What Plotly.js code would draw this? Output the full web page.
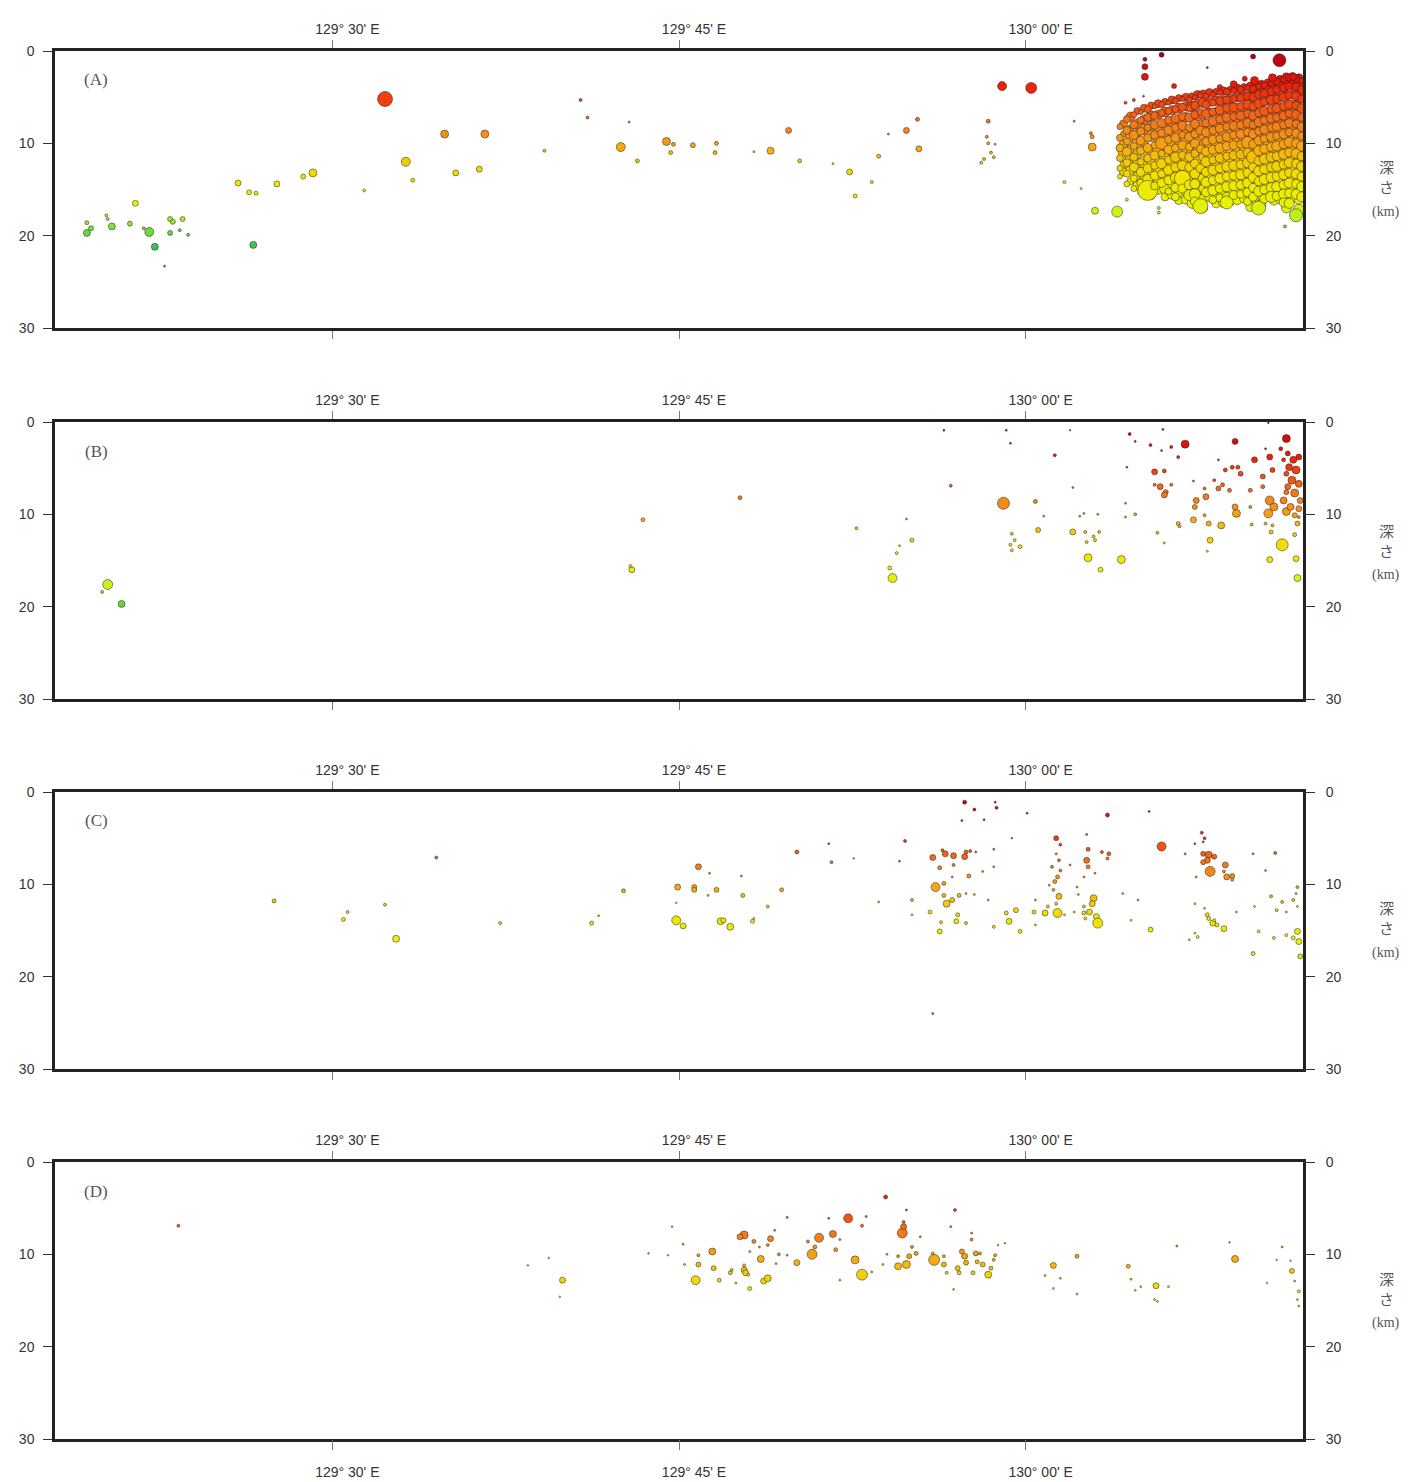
<!DOCTYPE html>
<html>
<head>
<meta charset="utf-8">
<script src="https://cdn.plot.ly/plotly-3.0.1.min.js"></script>
<style>html,body{margin:0;padding:0;background:#fff}#chart{width:1408px;height:1482px}</style>
</head>
<body>
<div id="chart"></div>
<script>
// ---------------- DATA (longitude in degrees E, depth in km, magnitude) ----------------
const xTickVals = [129.5, 129.75, 130.0];
const xTickText = ["129\u00b0 30' E", "129\u00b0 45' E", "130\u00b0 00' E"];
const depthTicks = [0, 10, 20, 30];
const panelLabels = ["(A)", "(B)", "(C)", "(D)"];

// Panel A: scattered events
const lonA = [129.538,129.581,129.553,129.558,129.589,129.523,129.486,129.479,129.460,129.432,129.440,129.445,129.443,129.358,129.323,129.323,129.326,129.337,129.338,129.341,129.354,129.364,129.368,129.372,129.383,129.385,129.383,129.392,129.390,129.396,129.379,
 129.610,129.606,129.679,129.684,129.714,129.653,129.708,129.720,129.741,129.746,129.744,129.760,129.777,129.776,129.804,129.816,129.829,129.837,129.861,129.873,129.877,129.889,129.894,129.901,129.914,129.922,129.923,
 129.983,130.004,129.973,129.972,129.973,129.978,129.975,129.977,129.970,129.968,130.035,130.048,130.048,130.047,130.028,130.040,130.050,130.066,130.073,130.096,130.096,130.187,130.195,130.183,130.164,130.098,130.086,130.086,130.086,130.107,130.131,130.193,
 130.140,130.150,130.158,130.165,130.178,130.072,130.078,130.085];
const depA = [5.2,9.0,12.0,14.0,13.2,15.1,13.2,13.6,14.4,14.3,15.3,15.4,21.0,16.5,18.6,19.7,19.2,17.8,18.2,19.0,18.7,19.2,19.6,21.2,18.2,18.5,19.7,18.2,19.4,19.9,23.3,
 9.0,12.8,5.3,7.2,7.7,10.8,10.4,11.9,9.8,10.1,11.0,10.2,10.0,11.0,10.9,10.8,8.6,11.9,12.2,13.1,15.7,14.2,11.4,9.0,8.6,7.4,10.6,
 3.8,4.0,7.6,9.3,10.0,10.1,11.0,11.5,11.7,12.1,7.6,10.4,9.3,8.9,14.2,14.9,17.3,17.4,16.1,17.0,17.5,19.0,17.8,1.0,0.6,0.4,0.9,1.7,2.8,3.8,1.8,2.8,
 3.9,3.6,3.0,3.2,2.9,5.6,5.3,4.9];
const magA = [3.5,2.1,2.3,1.3,1.7,1.1,2.1,1.5,1.7,1.7,1.5,1.3,1.9,1.7,1.3,1.9,1.5,1.1,1.1,1.9,1.5,1.1,2.3,1.9,1.5,1.5,1.5,1.5,1.1,1.1,0.9,
 2.1,1.7,1.1,1.1,0.9,1.1,2.3,1.3,2.1,1.3,1.3,1.5,1.3,1.3,0.9,1.9,1.7,1.3,0.9,1.7,1.3,1.1,1.3,0.9,1.7,1.3,1.7,
 2.3,2.7,1.3,1.1,1.1,0.9,1.1,1.1,1.1,1.1,0.9,2.1,1.3,1.1,1.1,0.9,1.9,2.7,1.1,1.1,1.1,1.1,3.1,3.1,1.5,1.5,1.3,1.7,1.9,1.5,0.9,1.9,
 1.5,1.9,1.5,2.1,2.1,1.1,1.1,0.9];

// Panel A: dense swarm near the east end, listed by longitude strip (first set)
const swarmLonA = [130.068,130.073,130.078,130.083,130.088,130.093,130.098,130.103,130.108,130.113,130.118,130.122,130.126,130.130,130.135,130.140,130.145,130.150,130.155,130.160,130.164,130.168,130.172,130.177,130.181,130.186,130.190,130.195,130.199];
const swarmDepA = [
 [8.2,9.4,10.5,11.6,12.7,13.6],
 [7.4,8.6,9.8,10.9,12.1,13.3,14.4],
 [6.9,8.0,9.1,10.3,11.5,12.6,13.8,14.9],
 [6.6,7.5,8.7,9.7,10.8,12.0,13.1,14.3,15.3],
 [6.3,7.2,8.3,9.4,10.5,11.6,12.7,13.9,15.1],
 [6.0,7.0,8.0,9.1,10.2,11.3,12.4,13.5,14.6],
 [5.8,6.7,7.8,8.9,10.0,11.1,12.2,13.3,14.3],
 [5.6,6.5,7.5,8.6,9.6,10.7,11.8,12.9,14.0,15.2],
 [5.4,6.3,7.3,8.3,9.4,10.5,11.5,12.6,13.7,14.8,15.8],
 [5.2,6.1,7.1,8.1,9.1,10.2,11.3,12.4,13.8,14.9],
 [5.3,6.2,7.2,8.3,9.3,10.4,11.5,12.6,14.5,15.6],
 [5.0,5.9,6.9,7.9,9.0,10.0,11.1,12.2,13.3,14.4,15.5,16.3],
 [4.8,6.6,8.6,10.6,12.7,16.8],
 [4.9,5.8,6.8,7.8,8.8,9.8,10.9,12.0,13.1,14.2,15.3],
 [4.7,5.6,6.6,7.6,8.6,9.6,10.7,11.8,12.9,14.0,15.1,16.1],
 [4.5,5.4,6.4,7.4,8.4,9.5,10.5,11.6,12.7,13.8,14.9,15.9],
 [4.4,5.3,6.2,7.2,8.2,9.3,10.3,11.4,12.5,13.6,14.7,15.8,16.4],
 [4.3,5.2,6.1,7.1,8.1,9.1,10.2,11.3,12.4,13.5,14.6,15.6],
 [4.2,5.1,6.0,7.0,8.0,9.0,10.1,11.2,12.3,13.4,14.5,15.5],
 [4.0,4.9,5.8,6.8,7.8,8.8,9.9,11.0,12.1,13.2,14.3,15.3,16.3],
 [4.1,5.0,6.0,7.0,8.0,9.0,10.1,11.5,12.6,13.7,14.8,15.8],
 [3.8,4.7,5.7,6.7,7.7,8.7,9.7,10.8,11.9,13.0,14.1,15.2,17.0],
 [3.7,4.6,5.5,6.5,7.5,8.5,9.5,10.6,11.7,12.8,13.9,15.0,16.0],
 [3.5,4.4,5.3,6.3,7.3,8.3,9.3,10.4,11.5,12.6,13.7,14.8,15.8],
 [3.3,4.2,5.2,6.2,7.2,8.2,9.2,10.3,11.4,12.5,13.6,14.7,15.7],
 [3.1,4.0,5.0,6.0,7.0,8.0,9.0,10.1,11.2,12.3,13.4,14.5,15.5,16.4],
 [2.9,3.8,4.8,5.8,6.8,7.8,8.8,9.9,11.0,12.1,13.2,14.3,15.4,16.5],
 [3.0,3.9,4.9,5.9,6.9,7.9,8.9,10.0,11.1,12.2,13.3,14.4,15.5],
 [3.2,4.2,5.2,6.2,7.2,8.2,9.2,10.3,11.4,12.5,13.6,14.7,15.8]];
const swarmMagA = [
 [1.7,1.9,2.1,1.9,1.7,1.5],
 [1.9,2.1,1.9,2.3,2.1,1.9,1.7],
 [1.7,2.1,2.3,1.9,2.1,2.3,1.9,1.7],
 [1.5,1.9,2.1,2.3,2.1,1.9,2.3,2.1,1.7],
 [1.9,2.1,1.9,2.1,2.3,2.1,2.3,2.5,4.5],
 [1.5,2.1,2.3,2.1,1.9,2.3,2.1,2.3,2.1],
 [1.7,1.9,2.3,2.1,2.9,1.9,2.5,2.1,2.3],
 [1.5,1.9,2.1,2.3,2.1,2.3,2.1,2.5,2.3,1.9],
 [1.7,1.9,2.3,2.1,2.3,2.1,2.5,2.3,2.5,2.3,2.1],
 [1.5,2.1,2.1,2.3,1.9,2.3,2.1,2.5,3.7,2.3],
 [1.7,1.9,2.3,2.1,2.3,2.1,2.3,2.3,2.5,2.7],
 [1.5,2.1,2.1,2.3,2.1,2.3,2.1,2.3,2.5,2.5,2.7,2.3],
 [1.7,1.9,2.3,2.1,2.3,3.5],
 [1.7,2.1,2.3,2.1,2.3,2.1,2.3,2.5,2.3,2.5,2.3],
 [1.5,1.9,2.1,2.3,2.1,2.3,2.3,2.1,2.5,2.3,2.5,2.1],
 [1.7,2.1,2.3,2.1,2.3,2.1,2.5,2.3,2.3,2.5,2.3,2.1],
 [1.9,2.1,2.1,2.3,2.1,2.3,2.3,2.1,2.5,2.3,2.5,2.3,3.1],
 [1.7,1.9,2.3,2.1,2.3,2.1,2.3,2.3,2.5,2.3,2.5,2.3],
 [1.9,2.1,2.1,2.3,2.1,2.3,2.1,2.3,2.3,2.5,2.3,2.1],
 [1.7,2.1,2.3,2.1,2.3,2.1,2.9,2.3,2.5,2.3,2.5,2.3,2.1],
 [1.9,2.1,2.1,2.3,2.1,2.3,2.3,3.1,2.3,2.5,2.3,2.3],
 [1.7,2.1,2.3,2.1,2.3,2.1,2.3,2.5,2.3,2.5,2.3,2.5,3.3],
 [1.9,2.1,2.1,2.3,2.1,2.3,2.1,2.3,2.5,2.3,2.5,2.3,2.3],
 [1.7,2.1,2.3,2.1,2.3,2.1,2.3,2.3,2.5,2.3,2.5,2.5,2.7],
 [1.9,2.1,2.1,2.3,2.1,2.3,2.1,2.5,2.3,2.5,2.3,2.5,2.3],
 [1.7,2.1,2.3,2.1,2.3,2.1,2.3,2.3,2.5,2.3,2.5,2.3,2.5,2.3],
 [1.9,2.1,2.1,2.3,2.1,2.3,2.1,2.5,2.3,2.5,2.3,2.5,2.3,2.5],
 [1.9,2.1,2.3,2.1,2.3,2.1,2.3,2.3,2.5,2.3,2.5,2.3,2.5],
 [1.7,2.1,2.1,2.3,2.1,2.3,2.1,2.5,2.3,2.5,2.3,2.5,2.5]];

// Panel A swarm, second set of events between the strips above
const swarm2LonA = [130.0705,130.0755,130.0805,130.0855,130.0905,130.0955,130.1005,130.1055,130.1105,130.1155,130.120,130.124,130.128,130.1325,130.1375,130.1425,130.1475,130.1525,130.1575,130.162,130.166,130.170,130.1745,130.179,130.1835,130.188,130.1925,130.197];
const swarm2DepA = [
 [7.9,9.0,10.1,11.0,12.3,13.1],
 [7.1,8.4,9.3,10.6,11.8,12.9,14.1],
 [6.5,7.9,8.9,10.0,11.2,12.2,13.5,14.6],
 [6.2,7.4,8.5,9.9,11.0,12.3,13.3,14.6],
 [5.9,7.0,8.1,9.2,10.8,11.9,13.0,14.2,15.6],
 [5.7,6.9,8.3,9.5,10.5,11.7,12.9,14.0,15.1],
 [5.5,6.6,7.9,9.1,10.3,11.5,12.5,13.6,14.9,15.8],
 [5.3,6.4,7.7,8.8,10.0,11.0,12.2,13.4,14.4,15.5],
 [5.1,6.2,7.5,8.7,9.8,10.9,12.0,13.1,14.2,15.3,16.2],
 [5.0,6.0,7.2,8.5,9.7,10.8,11.9,12.9,14.1,15.2,16.1],
 [4.9,6.0,7.3,8.5,9.6,10.8,11.9,13.0,14.0,15.1,16.5],
 [4.7,5.7,7.0,8.2,9.4,10.5,11.7,12.9,14.0,15.0,16.2],
 [4.6,5.6,6.9,8.1,9.2,10.4,11.5,12.7,13.8,14.9,16.0,17.0],
 [4.5,5.5,6.7,7.9,9.1,10.2,11.4,12.5,13.6,14.7,15.8],
 [4.4,5.4,6.6,7.8,9.0,10.1,11.2,12.3,13.4,14.5,15.6,16.5],
 [4.3,5.3,6.4,7.6,8.8,9.9,11.0,12.1,13.2,14.3,15.4,16.4],
 [4.2,5.2,6.3,7.5,8.7,9.8,10.9,12.0,13.1,14.2,15.3,16.3],
 [4.0,5.0,6.2,7.4,8.6,9.7,10.8,11.9,13.0,14.1,15.2,16.1],
 [3.9,4.9,6.1,7.3,8.4,9.5,10.6,11.7,12.8,13.9,15.0,16.0],
 [3.8,4.8,5.9,7.1,8.3,9.4,10.5,11.6,12.7,13.8,14.9,15.9,16.9],
 [3.7,4.6,5.8,7.0,8.2,9.3,10.4,11.5,12.6,13.7,14.8,15.8],
 [3.6,4.5,5.6,6.8,8.0,9.1,10.2,11.3,12.4,13.5,14.6,15.6,16.6],
 [3.4,4.3,5.4,6.6,7.8,8.9,10.0,11.1,12.2,13.3,14.4,15.4],
 [3.2,4.1,5.2,6.4,7.6,8.7,9.8,10.9,12.0,13.1,14.2,15.3,16.2],
 [3.0,3.9,5.0,6.2,7.4,8.5,9.6,10.7,11.8,12.9,14.0,15.1,16.0],
 [2.8,3.7,4.8,6.0,7.2,8.3,9.4,10.5,11.6,12.7,13.8,14.9,16.0,17.0],
 [2.7,3.6,4.7,5.9,7.1,8.2,9.3,10.4,11.5,12.6,13.7,14.8,15.9],
 [2.9,3.8,4.9,6.1,7.3,8.4,9.5,10.6,11.7,12.8,13.9,15.0,16.1,17.2]];
const swarm2MagA = [
 [2.1,1.7,2.3,2.5,1.9,2.1],
 [2.3,1.9,2.5,2.1,2.7,2.3,1.9],
 [1.9,2.5,2.1,2.7,2.3,2.5,2.1,2.3],
 [2.1,2.3,2.7,2.1,2.5,2.3,2.9,2.1],
 [1.9,2.5,2.3,2.7,2.3,2.5,2.1,2.7,2.3],
 [2.1,2.3,2.5,2.3,2.9,2.1,2.5,2.3,2.1],
 [1.9,2.5,2.3,2.5,2.3,2.7,2.3,2.5,2.7,2.1],
 [2.1,2.3,2.7,2.3,2.5,2.1,2.7,2.5,2.3,2.5],
 [1.9,2.5,2.3,2.7,2.3,2.5,2.3,2.7,2.5,2.3,2.1],
 [2.1,2.3,2.5,2.3,2.7,2.3,2.5,3.1,2.3,2.5,2.3],
 [1.9,2.5,2.3,2.5,2.3,2.7,2.3,2.5,2.7,2.3,2.5],
 [2.1,2.3,2.7,2.3,2.5,2.3,2.7,2.3,2.5,2.7,2.3],
 [1.9,2.5,2.3,2.7,2.3,2.5,2.3,2.7,2.5,2.3,2.5,2.3],
 [2.1,2.3,2.5,2.3,2.7,2.3,2.5,2.3,2.7,2.5,2.3],
 [1.9,2.5,2.3,2.5,2.3,2.7,2.3,2.5,2.3,2.7,2.5,2.3],
 [2.1,2.3,2.7,2.3,2.5,2.3,2.7,2.3,2.5,2.3,2.7,2.5],
 [1.9,2.5,2.3,2.7,2.3,2.5,2.3,2.5,2.7,2.3,2.5,2.3],
 [2.1,2.3,2.5,2.3,2.7,2.3,2.5,2.3,2.7,2.5,2.3,2.5],
 [1.9,2.5,2.3,2.5,2.3,2.7,2.3,2.5,2.3,2.7,2.5,2.3],
 [2.1,2.3,2.7,2.3,2.5,2.3,2.7,2.3,2.5,2.3,2.7,2.5,2.3],
 [1.9,2.5,2.3,2.7,2.3,2.5,2.3,2.5,2.7,2.3,2.5,2.3],
 [2.1,2.3,2.5,2.3,2.7,2.3,2.5,2.3,2.7,2.5,2.3,2.5,2.3],
 [1.9,2.5,2.3,2.5,2.3,2.7,2.3,2.5,2.3,2.7,2.5,2.3],
 [2.1,2.3,2.7,2.3,2.5,2.3,2.7,2.3,2.5,2.3,2.7,2.5,2.3],
 [1.9,2.5,2.3,2.7,2.3,2.5,2.3,2.5,2.7,2.3,2.5,2.3,2.5],
 [2.1,2.3,2.5,2.3,2.7,2.3,2.5,2.3,2.7,2.5,2.3,2.5,2.3,2.5],
 [1.9,2.5,2.3,2.5,2.3,2.7,2.3,2.5,2.3,2.7,2.5,2.3,2.5],
 [2.1,2.3,2.7,2.3,2.5,2.3,2.7,2.3,2.5,2.3,2.7,2.5,2.3,2.7]];

// Panel B
const lonB = [129.338,129.334,129.348,129.724,129.716,129.715,129.794,129.878,129.914,129.918,
 129.909,129.907,129.902,129.904,129.941,129.946,129.984,129.986,129.989,130.021,
 130.007,130.013,130.009,129.990,129.992,129.989,129.996,129.990,130.034,130.032,
 130.034,130.039,130.042,130.043,130.044,130.050,130.052,130.053,130.049,130.045,
 130.054,130.069,130.072,130.072,130.079,130.075,130.079,130.073,130.099,130.090,
 130.105,130.115,130.098,130.110,130.093,130.100,130.097,130.101,130.100,130.093,
 130.105,130.121,130.123,130.122,130.130,130.121,130.110,130.111,130.095,130.100,
 130.129,130.132,130.141,130.133,130.131,130.152,130.151,130.162,130.163,130.151,
 130.144,130.149,130.153,130.155,130.139,130.136,130.139,130.142,130.147,130.129,
 130.162,130.165,130.171,130.173,130.176,130.188,130.175,130.184,130.178,130.176,
 130.179,130.175,130.186,130.188,130.171,130.178,130.173,130.177,130.176,130.185,
 130.195,130.196,130.194,130.196,130.197,130.189,130.193,130.197,130.190,130.195,
 130.188,130.192,130.197,130.189,130.194,130.198,130.191,130.197,130.194,130.186,130.188];
const depB = [17.6,18.4,19.7,10.6,16.0,15.6,8.2,11.5,10.5,12.8,
 13.4,14.2,15.8,16.9,0.9,6.9,8.8,0.9,2.3,3.6,
 8.6,10.2,11.7,12.1,12.8,13.3,13.5,13.9,7.1,0.9,
 11.9,10.2,9.9,11.9,13.0,12.8,10.0,11.9,12.4,14.7,
 16.0,14.9,8.8,10.3,10.0,1.3,2.1,4.9,0.8,2.5,
 2.7,2.4,3.1,3.8,5.4,5.3,7.0,7.6,7.9,6.8,
 6.8,6.4,8.5,9.2,8.1,10.6,11.0,11.3,12.0,13.1,
 10.1,11.0,11.2,12.8,14.0,9.9,9.2,9.2,11.1,2.1,
 5.2,4.9,4.9,5.6,4.1,6.3,7.2,6.8,7.4,7.2,
 7.4,4.1,5.9,2.9,3.8,1.8,0.1,2.9,5.2,8.5,
 9.2,9.9,8.5,9.7,7.0,11.2,11.0,11.9,14.9,13.3,
 14.8,16.9,12.2,11.0,10.3,3.4,4.1,3.8,4.9,5.2,
 5.6,6.3,6.7,7.0,7.7,8.5,9.2,9.4,10.1,4.1,7.6];
const magB = [2.5,1.1,1.9,1.3,1.7,1.1,1.3,1.1,0.9,1.3,
 0.9,1.1,1.3,2.3,0.9,1.1,2.9,0.9,0.9,1.1,
 1.3,0.9,1.5,1.1,1.1,1.1,1.3,1.1,0.9,0.7,
 1.7,0.9,0.9,1.1,1.1,1.1,0.9,1.1,1.1,2.1,
 1.5,2.1,0.9,0.9,1.1,1.1,0.9,0.9,0.9,1.1,
 1.1,2.1,0.9,1.1,1.7,1.3,1.7,1.5,1.7,1.1,
 1.1,0.9,1.7,1.5,1.7,1.7,1.3,1.1,1.1,0.9,
 1.1,1.5,1.9,1.7,0.9,2.1,1.7,1.1,1.1,1.7,
 1.3,1.3,1.3,1.5,0.9,1.1,1.5,1.3,1.3,1.1,
 1.3,1.7,1.5,0.9,1.7,2.1,0.7,1.3,1.5,2.3,
 2.1,2.3,1.9,2.1,1.3,1.1,1.1,1.3,1.7,2.9,
 1.7,1.9,1.3,1.5,1.1,1.5,1.9,1.7,1.9,2.1,
 1.5,2.1,1.9,1.7,2.1,1.7,1.9,1.7,1.5,1.3,1.5];

// Panel C
const lonC = [129.458,129.508,129.511,129.538,129.546,129.575,129.621,129.687,129.692,129.710,
 129.749,129.748,129.753,129.748,129.761,129.761,129.764,129.772,129.777,129.771,
 129.780,129.787,129.782,129.803,129.804,129.795,129.796,129.814,129.824,129.835,
 129.858,129.860,129.876,129.894,129.909,129.913,129.956,129.963,129.978,129.979,
 129.954,129.970,130.001,129.990,129.933,129.942,129.948,129.956,129.957,129.960,
 129.940,129.964,129.977,129.938,129.948,129.959,129.969,129.977,129.935,129.941,
 129.947,129.941,129.943,129.947,129.952,129.957,129.963,129.973,129.931,129.918,
 129.918,129.951,129.950,129.939,129.957,129.938,129.977,129.988,129.996,129.993,
 129.986,130.007,130.006,130.014,130.016,130.007,130.023,130.022,130.024,130.028,
 130.020,130.021,130.023,130.025,130.019,130.022,130.025,130.022,130.024,130.017,
 130.032,130.038,130.037,130.044,130.045,130.044,130.045,130.042,130.050,130.049,
 130.048,130.046,130.042,130.051,130.052,130.043,130.042,130.035,130.055,130.060,
 130.059,130.059,130.070,130.076,130.081,130.089,130.090,130.098,130.115,130.122,
 130.118,130.124,130.122,130.122,130.127,130.129,130.128,130.128,130.132,130.131,
 130.136,130.133,130.128,130.144,130.143,130.145,130.149,130.149,130.123,130.131,
 130.132,130.135,130.138,130.143,130.136,130.129,130.152,130.165,130.168,130.164,
 130.173,130.180,130.177,130.181,130.185,130.188,130.196,130.195,130.193,130.196,
 130.179,130.188,130.193,130.196,130.197,130.198,130.164,129.933];
const depC = [11.8,13.8,13.0,12.2,15.9,7.1,14.2,14.2,13.4,10.7,
 10.3,13.9,14.5,12.0,10.3,10.6,8.1,8.8,10.6,11.2,
 14.0,14.6,13.9,14.0,13.7,9.1,11.2,12.4,10.6,6.5,
 5.6,7.6,7.2,11.9,7.5,5.3,1.1,1.9,1.1,1.7,
 3.1,3.0,2.3,5.0,7.1,6.7,6.9,7.0,6.5,6.4,
 6.3,6.5,6.2,8.2,7.9,9.1,8.6,8.1,10.3,9.9,
 9.2,11.2,12.1,11.7,11.2,11.0,11.1,11.7,13.0,11.7,
 13.3,13.3,14.0,14.1,14.2,15.1,14.6,14.0,15.1,12.8,
 13.1,14.4,13.0,13.1,12.4,11.7,13.1,12.1,11.3,13.3,
 10.6,9.7,9.2,8.5,8.1,5.0,5.7,6.7,7.4,10.1,
 7.9,11.1,10.3,4.6,6.2,7.4,8.1,9.2,8.8,11.5,
 12.1,13.0,13.1,13.5,14.2,13.7,12.4,13.0,6.5,6.7,
 2.5,7.2,11.0,13.9,11.7,2.1,14.9,5.9,6.7,12.1,
 16.0,15.7,15.3,5.6,4.4,5.0,5.4,6.7,6.8,7.4,
 7.0,8.6,7.6,7.9,8.6,9.2,9.1,9.5,9.2,13.3,
 13.7,14.2,14.4,14.8,13.9,12.6,13.0,12.4,15.1,6.7,
 8.5,6.6,11.3,12.8,11.9,13.0,10.3,11.0,11.7,12.4,
 15.8,15.5,15.8,15.1,16.2,17.8,17.5,24.0];
const magC = [1.3,1.3,1.1,1.1,1.9,1.1,1.1,1.3,0.9,1.3,
 1.7,2.3,1.7,0.7,1.5,1.5,1.7,0.9,1.5,0.9,
 1.9,1.9,1.5,1.3,0.9,0.9,1.3,1.1,1.3,1.3,
 0.9,1.1,0.7,0.9,0.9,1.1,1.3,1.1,0.9,1.1,
 0.9,0.9,0.9,0.7,1.7,1.7,1.7,1.7,1.3,1.1,
 1.1,0.9,0.9,1.3,1.1,1.3,0.9,0.9,2.3,1.3,
 0.9,1.3,1.9,1.5,1.3,0.9,0.9,0.9,1.3,1.1,
 0.9,1.3,1.5,1.1,1.1,1.5,1.1,1.7,1.3,1.5,
 1.3,0.9,1.3,1.7,1.1,0.9,2.3,1.1,1.7,0.9,
 1.1,1.3,1.3,1.1,1.1,1.5,1.1,0.9,1.1,0.9,
 0.9,0.9,0.9,0.9,1.3,1.7,1.3,0.9,0.9,1.9,
 1.7,1.7,1.3,1.7,2.5,1.1,1.1,0.9,1.1,1.3,
 1.3,1.1,0.9,0.9,0.9,0.9,1.5,2.3,0.9,0.9,
 0.9,1.1,0.9,0.9,1.1,1.1,0.9,1.5,1.9,1.7,
 1.5,2.5,1.5,1.7,1.1,1.7,1.5,1.1,0.9,1.3,
 1.3,1.7,1.3,1.7,1.1,0.9,0.9,0.9,1.1,0.9,
 0.9,1.1,1.1,1.1,1.1,0.9,1.1,0.9,1.1,0.9,
 1.1,1.1,1.3,1.7,1.7,1.5,1.3,0.9];

// Panel D
const lonD = [129.389,129.641,129.656,129.666,129.664,129.728,129.742,129.745,129.753,129.754,
 129.764,129.764,129.762,129.774,129.775,129.779,129.787,129.788,129.791,129.797,
 129.798,129.800,129.801,129.797,129.797,129.794,129.804,129.801,129.809,129.811,
 129.814,129.816,129.814,129.808,129.819,129.822,129.820,129.828,129.828,129.835,
 129.846,129.848,129.851,129.843,129.861,129.863,129.858,129.866,129.866,129.872,
 129.877,129.882,129.885,129.882,129.889,129.899,129.897,129.900,129.911,129.912,
 129.912,129.914,129.908,129.908,129.914,129.916,129.918,129.921,129.924,129.934,
 129.933,129.941,129.941,129.943,129.946,129.949,129.948,129.951,129.952,129.954,
 129.956,129.957,129.961,129.961,129.962,129.964,129.965,129.967,129.969,129.973,
 129.975,129.977,129.978,129.980,129.985,130.020,130.014,130.020,130.025,130.037,
 130.037,130.074,130.076,130.079,130.083,130.094,130.103,130.093,130.095,130.109,
 130.147,130.151,130.174,130.181,130.185,130.191,130.192,130.194,130.197,130.196,130.197];
const depD = [6.9,11.2,10.4,12.8,14.6,9.9,10.1,7.0,8.9,11.1,
 10.1,11.1,12.8,9.7,11.5,12.8,12.0,11.7,13.1,11.7,
 12.0,12.2,13.7,11.2,7.9,8.1,8.6,9.7,10.5,12.9,
 12.6,8.3,9.0,9.2,7.4,10.0,11.0,6.0,10.1,10.9,
 10.0,9.2,8.2,8.6,7.8,9.5,6.1,8.4,12.8,6.1,
 10.6,12.2,5.9,6.9,11.9,3.8,11.1,10.0,7.7,7.0,
 6.5,5.2,10.2,11.3,11.1,10.2,9.2,9.9,8.1,10.6,
 9.9,10.2,11.1,12.0,7.0,5.2,13.8,11.5,12.0,9.7,
 10.2,10.9,8.4,7.7,12.0,9.9,10.8,9.9,11.1,12.2,
 11.5,10.6,10.1,9.0,8.8,11.2,12.3,13.7,12.6,10.2,
 14.3,11.3,12.7,13.9,13.5,13.4,13.5,14.9,15.1,9.1,
 8.7,10.5,13.1,10.6,9.2,10.7,11.8,12.9,14.0,14.9,15.6];
const magD = [1.1,0.7,0.7,1.7,0.7,0.7,0.7,0.7,0.9,0.9,
 1.1,1.5,2.3,1.9,1.5,1.3,1.3,1.1,0.9,1.7,
 1.7,1.1,1.3,1.1,2.1,1.7,1.3,0.9,1.9,1.7,
 1.9,1.7,1.1,0.9,0.9,1.1,0.9,0.9,0.9,1.7,
 2.5,1.3,2.3,1.1,1.9,1.3,0.9,0.9,0.9,2.3,
 2.1,2.7,0.9,1.1,0.9,1.3,0.9,0.9,2.5,1.7,
 1.1,0.9,1.1,1.9,2.1,1.5,1.1,1.3,0.9,2.7,
 1.1,1.1,1.5,1.1,0.9,1.1,0.9,1.5,1.3,1.5,
 1.7,1.5,1.1,0.9,1.3,1.5,1.3,1.1,1.5,1.9,
 1.3,1.1,1.1,0.7,0.7,1.7,0.9,0.9,0.9,1.3,
 0.9,1.3,0.9,0.9,0.9,1.7,0.9,0.9,0.9,0.9,
 0.7,1.9,0.7,0.7,0.9,0.7,1.5,0.9,1.1,0.9,0.9];

// ---------------- BUILD ----------------
const swLon = [], swDep = [], swMag = [];
function addStrips(lons, deps, mags) {
  lons.forEach((lo, i) => {
    deps[i].forEach((d, j) => { swLon.push(lo); swDep.push(d); swMag.push(mags[i][j] || 2.0); });
  });
}
addStrips(swarm2LonA, swarm2DepA, swarm2MagA);
addStrips(swarmLonA, swarmDepA, swarmMagA);

const panels = [
  {lon: swLon.concat(lonA), dep: swDep.concat(depA), mag: swMag.concat(magA)},
  {lon: lonB, dep: depB, mag: magB},
  {lon: lonC, dep: depC, mag: magC},
  {lon: lonD, dep: depD, mag: magD}
];

const sizeOf = m => Math.max(1.6, (m - 0.5) * 5);
const depthScale = [
  [0.00, '#9c0018'], [0.05, '#cc0a14'], [0.12, '#ec1c0a'], [0.19, '#f24a12'],
  [0.26, '#f27a1c'], [0.33, '#f59e14'], [0.40, '#f3cc04'], [0.46, '#f0e400'],
  [0.55, '#e9f200'], [0.59, '#c4f01e'], [0.63, '#86e236'], [0.68, '#46d244'],
  [0.74, '#30a878'], [0.80, '#2a80b0'], [1.00, '#2040d0']];

const W = 1408, H = 1482, TOPS = [51, 422, 792, 1162], PH = 277;
const dom = t => [1 - (t + PH) / H, 1 - t / H];
const tickFont = {family: "'Liberation Sans Narrow','Arial Narrow','Liberation Sans',sans-serif", size: 14, color: '#333'};

const data = [];
panels.forEach((p, i) => {
  const sfx = i === 0 ? '' : String(i + 1);
  data.push({
    type: 'scatter', mode: 'markers', x: p.lon, y: p.dep,
    xaxis: 'x' + sfx, yaxis: 'y' + sfx, cliponaxis: true, showlegend: false,
    hovertemplate: '%{x:.3f}\u00b0E, %{y:.1f} km<extra></extra>',
    marker: {size: p.mag.map(sizeOf), color: p.dep, colorscale: depthScale, cmin: 0, cmax: 30,
             showscale: false, opacity: 1, line: {color: '#1e1e1e', width: 0.5}}
  });
  // helper traces for the right-hand depth labels
  data.push({type: 'scatter', mode: 'markers', x: [], y: [], xaxis: 'x' + sfx, yaxis: 'y' + (i + 5), showlegend: false, hoverinfo: 'skip'});
});
data.push({type: 'scatter', mode: 'markers', x: [], y: [], xaxis: 'x5', yaxis: 'y4', showlegend: false, hoverinfo: 'skip'});

const layout = {
  width: W, height: H, paper_bgcolor: '#fff', plot_bgcolor: '#fff',
  margin: {l: 55, r: 105, t: 0, b: 0}, showlegend: false, annotations: []
};

TOPS.forEach((t, i) => {
  const sfx = i === 0 ? '' : String(i + 1);
  layout['xaxis' + sfx] = {
    domain: [0, 1], anchor: 'y' + sfx, side: 'top', range: [129.3, 130.2],
    tickmode: 'array', tickvals: xTickVals, ticktext: xTickText,
    ticks: 'outside', ticklen: 8, tickwidth: 1, tickcolor: '#777',
    showline: true, linecolor: '#222', linewidth: 2.5, mirror: 'ticks',
    showgrid: false, zeroline: false, tickfont: tickFont, ticklabelshift: 15, ticklabelstandoff: 1
  };
  layout['yaxis' + sfx] = {
    domain: dom(t), anchor: 'x' + sfx, range: [30, 0],
    tickmode: 'array', tickvals: depthTicks, ticks: 'outside', ticklen: 9, tickwidth: 1, tickcolor: '#333',
    showline: true, linecolor: '#222', linewidth: 2.5, mirror: 'ticks',
    showgrid: false, zeroline: false, tickfont: tickFont, ticklabelstandoff: 6
  };
  layout['yaxis' + (i + 5)] = {
    overlaying: 'y' + sfx, anchor: 'x' + sfx, side: 'right', range: [30, 0],
    tickmode: 'array', tickvals: depthTicks, ticks: 'outside', ticklen: 9, tickwidth: 1, tickcolor: '#333',
    showline: false, showgrid: false, zeroline: false, tickfont: tickFont, ticklabelstandoff: 10
  };
  // panel letter
  layout.annotations.push({
    text: panelLabels[i], xref: 'paper', yref: 'paper', x: (96 - 55) / 1248, y: 1 - (t + 29) / H,
    xanchor: 'center', yanchor: 'middle', showarrow: false,
    font: {family: "'Liberation Serif','DejaVu Serif',serif", size: 17, color: '#555'}
  });
  // right-hand axis title 深さ (km), written vertically
  const off = i === 1 ? -8 : 0;
  layout.annotations.push({
    text: '\u6df1<br>\u3055', xref: 'paper', yref: 'paper', x: (1386 - 55) / 1248, y: 1 - (t + 126 + off) / H,
    xanchor: 'center', yanchor: 'middle', showarrow: false,
    font: {family: "'Noto Sans CJK JP',sans-serif", size: 15, color: '#555'}
  });
  layout.annotations.push({
    text: '(km)', xref: 'paper', yref: 'paper', x: (1386 - 55) / 1248, y: 1 - (t + 161 + off) / H,
    xanchor: 'center', yanchor: 'middle', showarrow: false,
    font: {family: "'Liberation Serif','DejaVu Serif',serif", size: 14, color: '#555'}
  });
});
layout.xaxis5 = {
  overlaying: 'x4', anchor: 'y4', side: 'bottom', range: [129.3, 130.2],
  tickmode: 'array', tickvals: xTickVals, ticktext: xTickText,
  ticks: 'outside', ticklen: 8, tickwidth: 1, tickcolor: '#777',
  showline: false, showgrid: false, zeroline: false, tickfont: tickFont, ticklabelshift: 15, ticklabelstandoff: 12
};

Plotly.newPlot('chart', data, layout, {displayModeBar: false, responsive: false});
</script>
</body>
</html>
